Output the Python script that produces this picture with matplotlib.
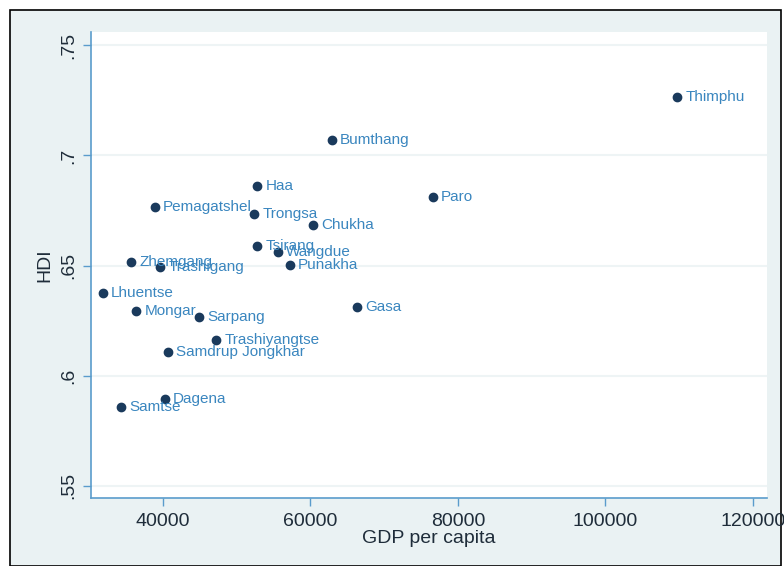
import matplotlib
matplotlib.use('Agg')
import matplotlib.pyplot as plt
from matplotlib.patches import Rectangle

# district, GDP per capita, HDI
districts = ['Thimphu', 'Bumthang', 'Haa', 'Pemagatshel', 'Trongsa', 'Chukha',
             'Paro', 'Tsirang', 'Wangdue', 'Punakha', 'Zhemgang', 'Trashigang',
             'Lhuentse', 'Mongar', 'Sarpang', 'Gasa', 'Trashiyangtse',
             'Samdrup Jongkhar', 'Dagena', 'Samtse']
gdp = [109700, 62900, 52750, 38900, 52350, 60350,
       76600, 52750, 55600, 57200, 35650, 39600,
       31850, 36350, 44900, 66300, 47200,
       40700, 40250, 34300]
hdi = [0.7267, 0.7068, 0.686, 0.6765, 0.6733, 0.6683,
       0.681, 0.6588, 0.6561, 0.6502, 0.6516, 0.6493,
       0.6376, 0.6294, 0.6267, 0.6312, 0.6163,
       0.6109, 0.5896, 0.586]

xticks = [40000, 60000, 80000, 100000, 120000]
yticks = [0.55, 0.6, 0.65, 0.7, 0.75]
ytick_labels = ['.55', '.6', '.65', '.7', '.75']

plt.rcParams['font.family'] = ['Liberation Sans', 'DejaVu Sans']

bg = '#eaf2f3'
marker_col = '#1a3a5c'
label_col = '#3a86bf'
axis_col = '#5a9ccc'
text_col = '#1f2d3a'

fig = plt.figure(figsize=(7.84, 5.66), dpi=100)
fig.patch.set_facecolor('white')
# graph region with black frame
fig.patches.append(Rectangle((10/784, 0), 771/784, 1 - 10/566, transform=fig.transFigure,
                             facecolor=bg, edgecolor='black', lw=1.2, zorder=-1))

ax = fig.add_axes([91/784, 1 - 498/566, (767 - 91)/784, (498 - 32)/566])
ax.set_facecolor('white')

ax.scatter(gdp, hdi, s=36, color=marker_col, zorder=3)
for name, x, y in zip(districts, gdp, hdi):
    ax.annotate(name, (x, y), xytext=(6, 0), textcoords='offset points',
                ha='left', va='center', fontsize=11, color=label_col, zorder=4)

ax.set_xlim(30240, 121900)
ax.set_ylim(0.5445, 0.756)
ax.set_xticks(xticks)
ax.set_xticklabels([str(t) for t in xticks])
ax.set_yticks(yticks)
ax.set_yticklabels(ytick_labels, rotation=90, va='center')

ax.yaxis.grid(True, color='#eef4f5', lw=1.5)
ax.set_axisbelow(True)

for side in ['top', 'right']:
    ax.spines[side].set_visible(False)
for side in ['left', 'bottom']:
    ax.spines[side].set_color(axis_col)
    ax.spines[side].set_linewidth(1.2)

ax.tick_params(axis='both', colors=axis_col, length=6, width=1, labelsize=14,
               labelcolor=text_col)
ax.tick_params(axis='x', pad=5)
ax.tick_params(axis='y', pad=4)

ax.set_xlabel('GDP per capita', fontsize=14, color=text_col, labelpad=0)
ax.set_ylabel('HDI', fontsize=14, color=text_col, labelpad=5)

fig.savefig('out.png', dpi=100, facecolor=fig.get_facecolor())
